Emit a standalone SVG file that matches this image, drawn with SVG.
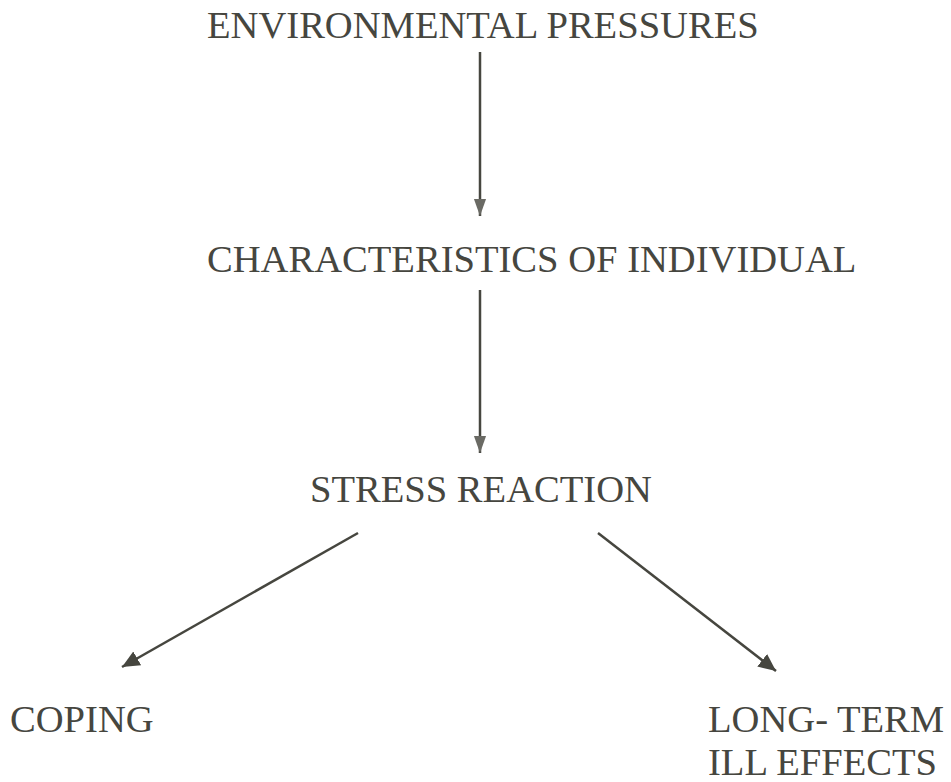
<svg xmlns="http://www.w3.org/2000/svg" width="951" height="782" viewBox="0 0 951 782">
<style>
.t{font-size:38.6px;fill:#46463f}
.c{stroke:#46463f;stroke-width:2.5;fill:none}
</style>
<defs>
<marker id="a" markerWidth="8" markerHeight="8" refX="7" refY="4" orient="auto" markerUnits="strokeWidth"><path d="M0,0.8 L7,4 L0,7.2 Z" fill="#46463f"/></marker>
<marker id="v" markerWidth="8" markerHeight="8" refX="7" refY="4" orient="auto" markerUnits="strokeWidth"><path d="M0,1.5 L7,4 L0,6.5 Z" fill="#6a6a64"/></marker>
</defs>
<rect width="951" height="782" fill="#fff"/>
<g font-family="Liberation Serif, serif">
<g id="n1"><text class="t" x="207" y="38">ENVIRONMENTAL PRESSURES</text></g>
<g id="n2"><text class="t" x="207" y="272">CHARACTERISTICS OF INDIVIDUAL</text></g>
<g id="n3"><text class="t" x="310" y="502">STRESS REACTION</text></g>
<g id="n4"><text class="t" x="10" y="732">COPING</text></g>
<g id="n5"><text class="t" x="708" y="732">LONG- TERM</text><text class="t" x="708" y="775">ILL EFFECTS</text></g>
</g>
<g id="connectors">
<line class="c" x1="480" y1="52" x2="480" y2="216" marker-end="url(#v)"/>
<line class="c" x1="480" y1="290" x2="480" y2="453" marker-end="url(#v)"/>
<line class="c" x1="358" y1="533" x2="122" y2="667" marker-end="url(#a)"/>
<line class="c" x1="598" y1="533" x2="776" y2="671" marker-end="url(#a)"/>
</g>
</svg>
